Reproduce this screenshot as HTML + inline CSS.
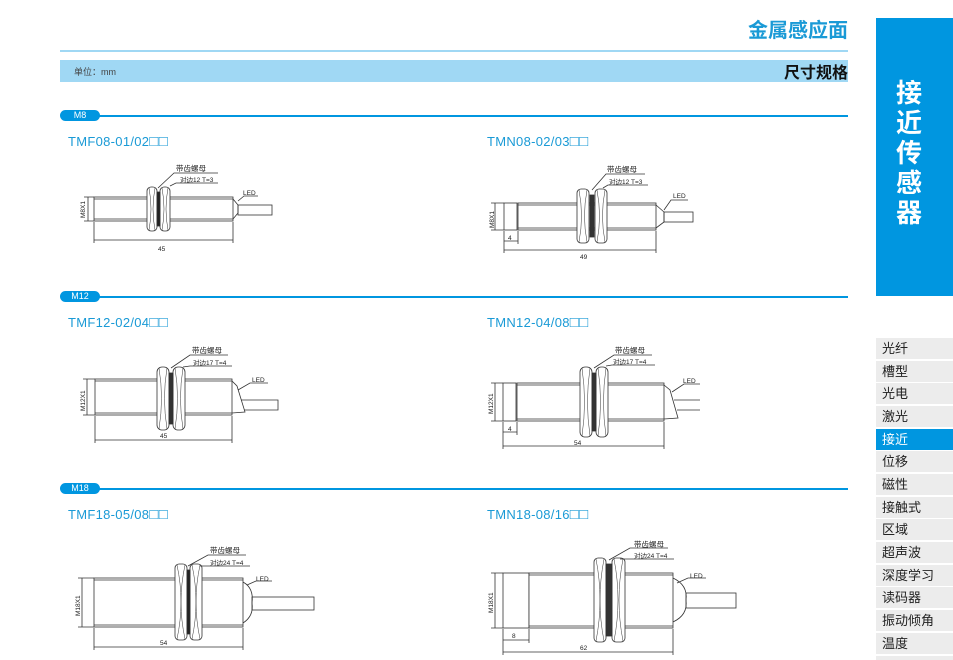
<!DOCTYPE html>
<html style="overflow:hidden;width:953px;height:660px"><head><meta charset="utf-8"><style>
body{margin:0;width:953px;height:660px;background:#fff;overflow:hidden;font-family:"Liberation Sans","Noto Sans CJK SC",sans-serif;position:relative}
.a{position:absolute}
.side{position:absolute;left:876px;width:77px;height:21px;background:#ececec;font-size:13px;line-height:21px;padding-left:6px;box-sizing:border-box;color:#222}
.tab{position:absolute;left:60px;width:40px;height:11px;border-radius:6px;background:#0096e0;color:#fff;font-size:9px;line-height:11px;text-align:center}
.ln{position:absolute;left:96px;width:752px;height:2px;background:#0096e0}
.t{position:absolute;font-size:13px;color:#1a9ad6;letter-spacing:0.3px}
.t b{font-weight:normal;font-size:15px;line-height:13px}
</style></head><body>
<div class="a" style="left:700px;top:14px;width:148px;text-align:right;font-size:20px;font-weight:bold;color:#1a9ad6">金属感应面</div>
<div class="a" style="left:60px;top:50px;width:788px;height:2px;background:#a0d8f4"></div>
<div class="a" style="left:60px;top:60px;width:788px;height:22px;background:#a0d8f4"></div>
<div class="a" style="left:74px;top:65px;font-size:9px;color:#444">单位：mm</div>
<div class="a" style="left:700px;top:59px;width:148px;text-align:right;font-size:16px;font-weight:bold;color:#111">尺寸规格</div>
<div class="a" style="left:876px;top:18px;width:77px;height:278px;background:#0096e0"></div>
<div class="a" style="left:876px;top:78px;width:66px;text-align:center;font-size:26px;line-height:30px;font-weight:bold;color:#fff">接<br>近<br>传<br>感<br>器</div>

<div class="ln" style="top:115px"></div><div class="tab" style="top:110px">M8</div>
<div class="ln" style="top:296px"></div><div class="tab" style="top:291px">M12</div>
<div class="ln" style="top:488px"></div><div class="tab" style="top:483px">M18</div>

<div class="t" style="left:68px;top:134px">TMF08-01/02<b>□□</b></div>
<div class="t" style="left:487px;top:134px">TMN08-02/03<b>□□</b></div>
<div class="t" style="left:68px;top:315px">TMF12-02/04<b>□□</b></div>
<div class="t" style="left:487px;top:315px">TMN12-04/08<b>□□</b></div>
<div class="t" style="left:68px;top:507px">TMF18-05/08<b>□□</b></div>
<div class="t" style="left:487px;top:507px">TMN18-08/16<b>□□</b></div>

<div class="side" style="top:338px">光纤</div>
<div class="side" style="top:361px">槽型</div>
<div class="side" style="top:383px">光电</div>
<div class="side" style="top:406px">激光</div>
<div class="side" style="top:429px;background:#0096e0;color:#fff">接近</div>
<div class="side" style="top:451px">位移</div>
<div class="side" style="top:474px">磁性</div>
<div class="side" style="top:497px">接触式</div>
<div class="side" style="top:519px">区域</div>
<div class="side" style="top:542px">超声波</div>
<div class="side" style="top:565px">深度学习</div>
<div class="side" style="top:587px">读码器</div>
<div class="side" style="top:610px">振动倾角</div>
<div class="side" style="top:633px">温度</div>
<div class="side" style="top:656px;height:4px"></div>

<svg class="a" style="left:0;top:0" width="953" height="660" font-family="Liberation Sans,Noto Sans CJK SC,sans-serif" fill="none" stroke="#333" stroke-width="0.8">
<!-- D1 -->
<rect x="94" y="197" width="139" height="24" fill="#fff"/><line x1="94" y1="199" x2="233" y2="199"/><line x1="94" y1="219" x2="233" y2="219"/>
<path d="M233 199 L238 205 L238 213 L233 219"/><rect x="238" y="205" width="34" height="10"/>
<rect x="147" y="187" width="10" height="44" rx="4" fill="#fff"/><rect x="160" y="187" width="10" height="44" rx="4" fill="#fff"/><rect x="157" y="192" width="3" height="34" fill="#222"/>
<path d="M149 188 Q153 209 149 230 M155 188 Q151 209 155 230 M162 188 Q166 209 162 230 M168 188 Q164 209 168 230" stroke-width="0.5"/>
<path d="M158 188 L174 173 L218 173 M170 186 L176 183 L218 183 M238 201 L244 196 L258 196"/>
<path d="M88 197 V221 M84 197 H94 M84 221 H94 M94 222 V243 M233 222 V243 M94 240 H233"/>
<!-- D2 -->
<rect x="504" y="203" width="13" height="27" fill="#fff"/><rect x="518" y="203" width="138" height="27" fill="#fff"/><line x1="518" y1="205" x2="656" y2="205"/><line x1="518" y1="228" x2="656" y2="228"/>
<path d="M656 205 L664 212 L664 222 L656 228"/><rect x="664" y="212" width="29" height="10"/>
<rect x="577" y="189" width="12" height="54" rx="4" fill="#fff"/><rect x="595" y="189" width="12" height="54" rx="4" fill="#fff"/><rect x="590" y="195" width="4" height="42" fill="#333"/>
<path d="M579 190 Q584 216 579 242 M587 190 Q582 216 587 242 M597 190 Q602 216 597 242 M605 190 Q600 216 605 242" stroke-width="0.5"/>
<path d="M592 190 L606 174 L645 174 M603 188 L608 185 L648 185 M664 210 L671 200 L688 200"/>
<path d="M495 203 V230 M491 203 H504 M491 230 H504 M504 231 V253 M518 231 V244 M656 231 V253 M504 241 H518 M504 250 H656"/>
<!-- D3 -->
<rect x="95" y="379" width="137" height="36" fill="#fff"/><line x1="95" y1="381" x2="232" y2="381"/><line x1="95" y1="413" x2="232" y2="413"/>
<path d="M232 381 L237 386 L245 412 L232 413"/><path d="M241 400 H278 V410 H244"/>
<rect x="157" y="367" width="12" height="63" rx="5" fill="#fff"/><rect x="173" y="367" width="12" height="63" rx="5" fill="#fff"/><rect x="169" y="373" width="4" height="51" fill="#333"/>
<path d="M159 368 Q164 398 159 429 M167 368 Q162 398 167 429 M175 368 Q180 398 175 429 M183 368 Q178 398 183 429" stroke-width="0.5"/>
<path d="M171 368 L190 355 L228 355 M183 367 L190 366 L232 366 M238 390 L250 383 L268 383"/>
<path d="M87 379 V415 M83 379 H95 M83 415 H95 M95 416 V443 M232 416 V443 M95 440 H232"/>
<!-- D4 -->
<rect x="503" y="383" width="13" height="38" fill="#fff"/><rect x="517" y="383" width="147" height="38" fill="#fff"/><line x1="517" y1="385" x2="664" y2="385"/><line x1="517" y1="419" x2="664" y2="419"/>
<path d="M664 385 L670 390 L678 418 L664 419"/><path d="M674 400 H700 M677 410 H700"/>
<rect x="580" y="367" width="12" height="70" rx="5" fill="#fff"/><rect x="596" y="367" width="12" height="70" rx="5" fill="#fff"/><rect x="592" y="373" width="4" height="58" fill="#333"/>
<path d="M582 368 Q587 402 582 436 M590 368 Q585 402 590 436 M598 368 Q603 402 598 436 M606 368 Q601 402 606 436" stroke-width="0.5"/>
<path d="M594 368 L614 355 L652 355 M606 366 L612 365 L655 365 M672 392 L684 384 L700 384"/>
<path d="M495 383 V421 M491 383 H503 M491 421 H503 M503 422 V449 M517 422 V435 M664 422 V449 M503 432 H517 M503 446 H664"/>
<!-- D5 -->
<rect x="94" y="578" width="149" height="49" fill="#fff"/><line x1="94" y1="580" x2="243" y2="580"/><line x1="94" y1="625" x2="243" y2="625"/>
<path d="M243 582 Q254 588 252 603 Q254 616 243 623"/><rect x="252" y="597" width="62" height="13"/>
<rect x="175" y="564" width="12" height="76" rx="4" fill="#fff"/><rect x="190" y="564" width="12" height="76" rx="4" fill="#fff"/><rect x="187" y="570" width="3" height="64" fill="#222"/>
<path d="M177 565 Q185 602 177 639 M185 565 Q177 602 185 639 M192 565 Q200 602 192 639 M200 565 Q192 602 200 639" stroke-width="0.5"/>
<path d="M188 566 L208 555 L246 555 M200 566 L208 566 L250 566 M247 585 L256 581 L272 581"/>
<path d="M82 578 V627 M78 578 H94 M78 627 H94 M94 628 V650 M243 628 V650 M94 647 H243"/>
<!-- D6 -->
<rect x="503" y="573" width="26" height="55" fill="#fff"/><rect x="529" y="573" width="144" height="55" fill="#fff"/><line x1="529" y1="575" x2="673" y2="575"/><line x1="529" y1="626" x2="673" y2="626"/>
<path d="M673 578 Q688 585 686 600 Q688 615 673 622"/><rect x="686" y="593" width="50" height="15"/>
<rect x="594" y="558" width="12" height="84" rx="4" fill="#fff"/><rect x="612" y="558" width="13" height="84" rx="4" fill="#fff"/><rect x="606" y="564" width="6" height="72" fill="#333"/>
<path d="M596 559 Q604 600 596 641 M604 559 Q596 600 604 641 M614 559 Q622 600 614 641 M623 559 Q615 600 623 641" stroke-width="0.5"/>
<path d="M609 560 L630 548 L668 548 M620 559 L628 559 L674 559 M677 583 L688 578 L706 578"/>
<path d="M495 573 V628 M491 573 H503 M491 628 H503 M503 629 V655 M529 629 V643 M673 629 V655 M503 640 H529 M503 652 H673"/>
<g fill="#222" stroke="none" font-size="7.5">
<text x="176" y="171">带齿螺母</text><text x="180" y="182" font-size="6.5">对边12 T=3</text><text x="243" y="195" font-size="6.5">LED</text>
<text x="158" y="251" font-size="6.5">45</text><text transform="translate(85,218) rotate(-90)" font-size="6.5">M8X1</text>
<text x="607" y="172">带齿螺母</text><text x="609" y="184" font-size="6.5">对边12 T=3</text><text x="673" y="198" font-size="6.5">LED</text>
<text x="580" y="259" font-size="6.5">49</text><text x="508" y="240" font-size="6.5">4</text><text transform="translate(494,228) rotate(-90)" font-size="6.5">M8X1</text>
<text x="192" y="353">带齿螺母</text><text x="193" y="365" font-size="6.5">对边17 T=4</text><text x="252" y="382" font-size="6.5">LED</text>
<text x="160" y="438" font-size="6.5">45</text><text transform="translate(85,411) rotate(-90)" font-size="6.5">M12X1</text>
<text x="615" y="353">带齿螺母</text><text x="613" y="364" font-size="6.5">对边17 T=4</text><text x="683" y="383" font-size="6.5">LED</text>
<text x="574" y="445" font-size="6.5">54</text><text x="508" y="431" font-size="6.5">4</text><text transform="translate(493,414) rotate(-90)" font-size="6.5">M12X1</text>
<text x="210" y="553">带齿螺母</text><text x="210" y="565" font-size="6.5">对边24 T=4</text><text x="256" y="581" font-size="6.5">LED</text>
<text x="160" y="645" font-size="6.5">54</text><text transform="translate(80,616) rotate(-90)" font-size="6.5">M18X1</text>
<text x="634" y="547">带齿螺母</text><text x="634" y="558" font-size="6.5">对边24 T=4</text><text x="690" y="578" font-size="6.5">LED</text>
<text x="580" y="650" font-size="6.5">62</text><text x="512" y="638" font-size="6.5">8</text><text transform="translate(493,613) rotate(-90)" font-size="6.5">M18X1</text>
</g>
</svg>
</body></html>
